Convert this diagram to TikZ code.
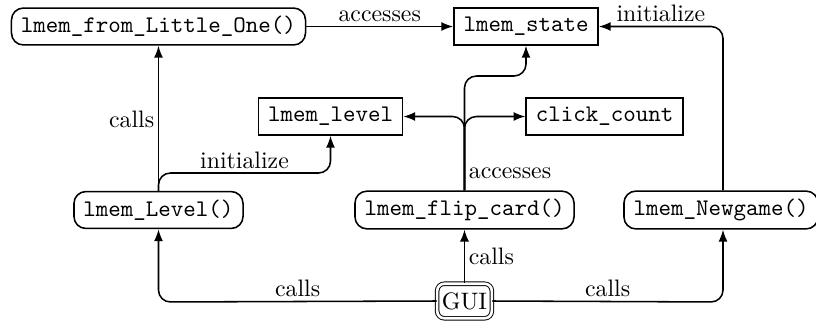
\documentclass[tikz,border=0pt]{standalone}
\usetikzlibrary{arrows.meta}
\begin{document}
\begin{tikzpicture}[x=0.42pt,y=-0.42pt,
  fn/.style={draw, line width=0.65pt, rounded corners=5pt, font=\ttfamily, inner xsep=4pt, minimum height=15.5pt},
  var/.style={draw, line width=0.65pt, font=\ttfamily, inner xsep=4pt, minimum height=15.5pt},
  gui/.style={draw, double, double distance=1.1pt, rounded corners=3pt, inner xsep=2pt, minimum height=14.5pt},
  conn/.style={line width=0.65pt, -{Latex[length=5pt,width=3.8pt]}, rounded corners=5pt},
  lbl/.style={font=\normalsize, inner sep=1.5pt}]
\useasboundingbox (0,0) rectangle (816,320);
\node[fn]  (lo)    at (158.5,26.5) {lmem\_from\_Little\_One()};
\node[var] (state) at (526,26.5)   {lmem\_state};
\node[var] (lvl)   at (330.5,116.5) {lmem\_level};
\node[var] (cc)    at (604.5,116.5) {click\_count};
\node[fn]  (lev)   at (158.5,210)   {lmem\_Level()};
\node[fn]  (flip)  at (464.5,210) {lmem\_flip\_card()};
\node[fn]  (ng)    at (721,210)   {lmem\_Newgame()};
\node[gui] (gui)   at (464.5,301) {GUI};
\coordinate (levup) at (158.5,173);
\coordinate (flipup) at (464.5,76);
\coordinate (gl) at (158.5,302);
\coordinate (gr) at (723,302);
\coordinate (ngtop) at (723,26.5);
% edges
\draw[conn] (lo.east) -- node[lbl,above]{accesses} (state.west);
\draw[conn] (lev.north) -- node[lbl,left,pos=0.49]{calls} (lo.south);
\draw[conn] (lev.north) -- (levup) -- node[lbl,above]{initialize} (levup -| lvl.south) -- (lvl.south);
\draw[conn] (flip.north) -- node[lbl,right,pos=0.15]{accesses} (flipup) -- (flipup -| state.south) -- (state.south);
\draw[conn] (flip.north) |- (lvl.east);
\draw[conn] (flip.north) |- (cc.west);
\draw[conn] (ng.north -| ngtop) -- (ngtop) -- node[lbl,above,pos=0.5]{initialize} (state.east);
\draw[conn] (gui.west) -- node[lbl,above]{calls} (gl) -- (lev.south);
\draw[conn] (gui.north) -- node[lbl,right]{calls} (flip.south);
\draw[conn] (gui.east) -- node[lbl,above]{calls} (gr) -- (ng.south -| gr);
\end{tikzpicture}
\end{document}
